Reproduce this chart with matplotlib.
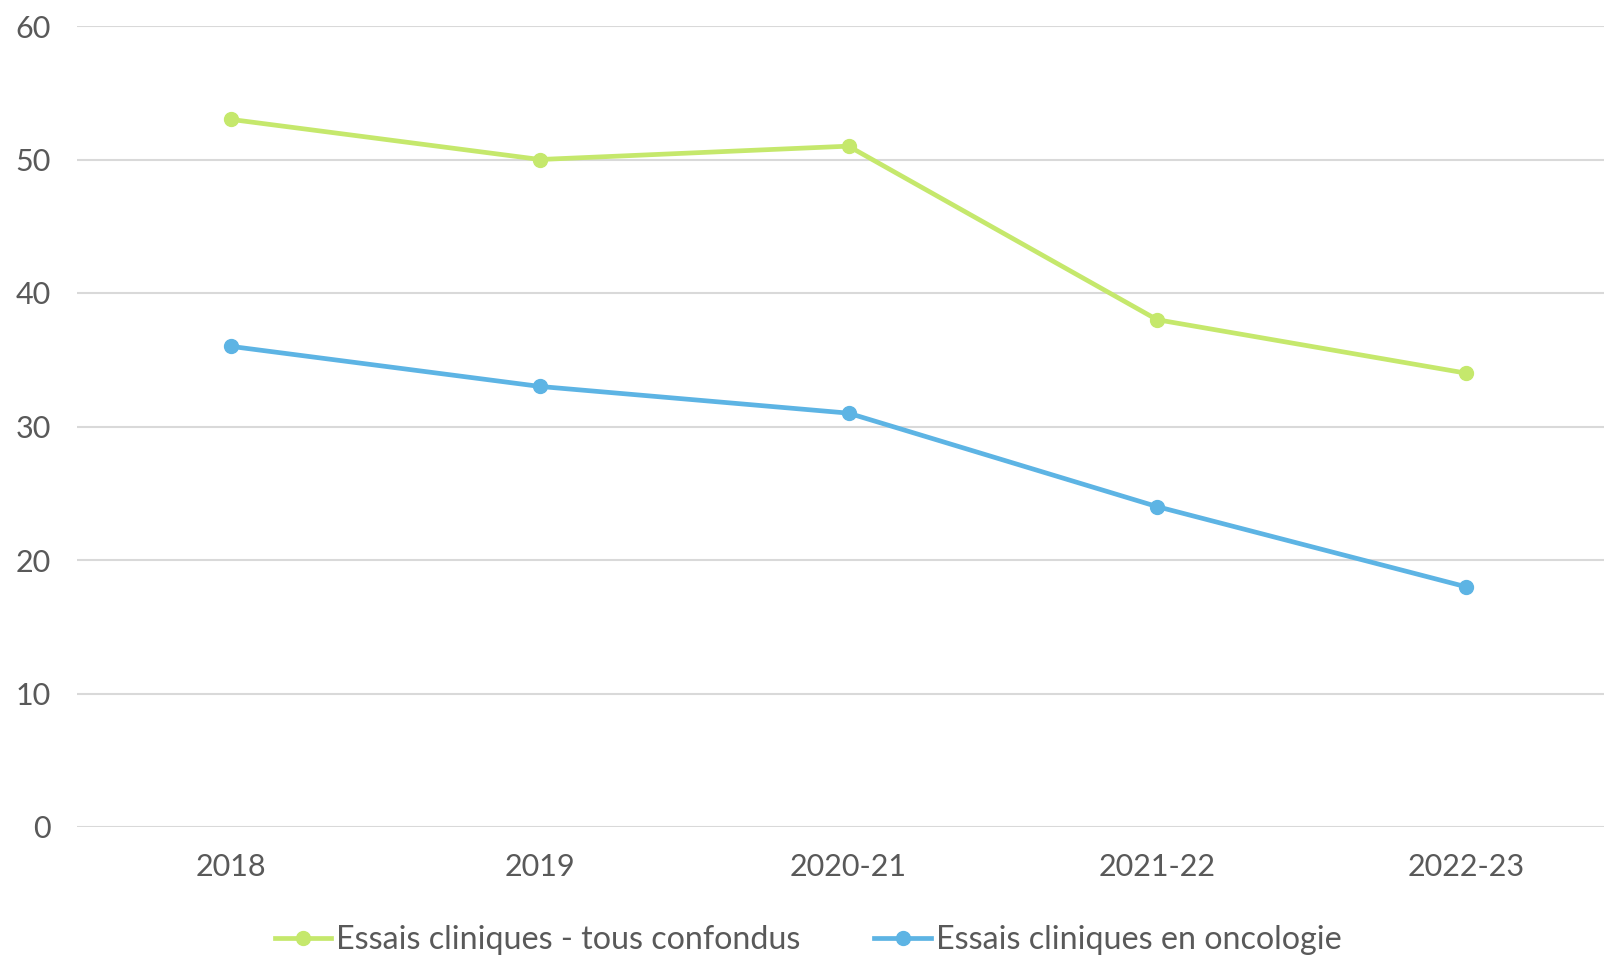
import matplotlib
matplotlib.use('Agg')
from matplotlib import pyplot as plt

periods = ['2018', '2019', '2020-21', '2021-22', '2022-23']
essais_tous = [53, 50, 51, 38, 34]
essais_onco = [36, 33, 31, 24, 18]
labels = ['Essais cliniques - tous confondus', 'Essais cliniques en oncologie']

plt.rcParams['font.family'] = ['Lato', 'DejaVu Sans']
text_col = '#595959'

fig = plt.figure(figsize=(16.04, 9.56), dpi=100)
ax = fig.add_axes([77 / 1604, 1 - 827 / 956, (1620 - 77) / 1604, (827 - 26) / 956])

x = range(len(periods))
ax.plot(x, essais_tous, color='#C5E86C', lw=3.4, marker='o', ms=10, label=labels[0], zorder=3)
ax.plot(x, essais_onco, color='#5DB4E4', lw=3.4, marker='o', ms=10, label=labels[1], zorder=3)

ax.set_xlim(-0.5, 4.5)
ax.set_ylim(0, 60)
ax.set_yticks(range(0, 61, 10))
ax.set_xticks(list(x))
ax.set_xticklabels(periods)
ax.grid(axis='y', color='#D9D9D9', lw=1.5)
ax.set_axisbelow(True)
for s in ax.spines.values():
    s.set_visible(False)
ax.tick_params(length=0, labelsize=22, colors=text_col)
ax.tick_params(axis='y', pad=19)
ax.tick_params(axis='x', pad=19)

leg = fig.legend(loc='center', bbox_to_anchor=(808 / 1604, 1 - 940 / 956), ncol=2, frameon=False,
                 fontsize=23.2, handlelength=1.75, handletextpad=0.15, columnspacing=2.3,
                 labelcolor=text_col)

fig.savefig('out.png', dpi=100)
